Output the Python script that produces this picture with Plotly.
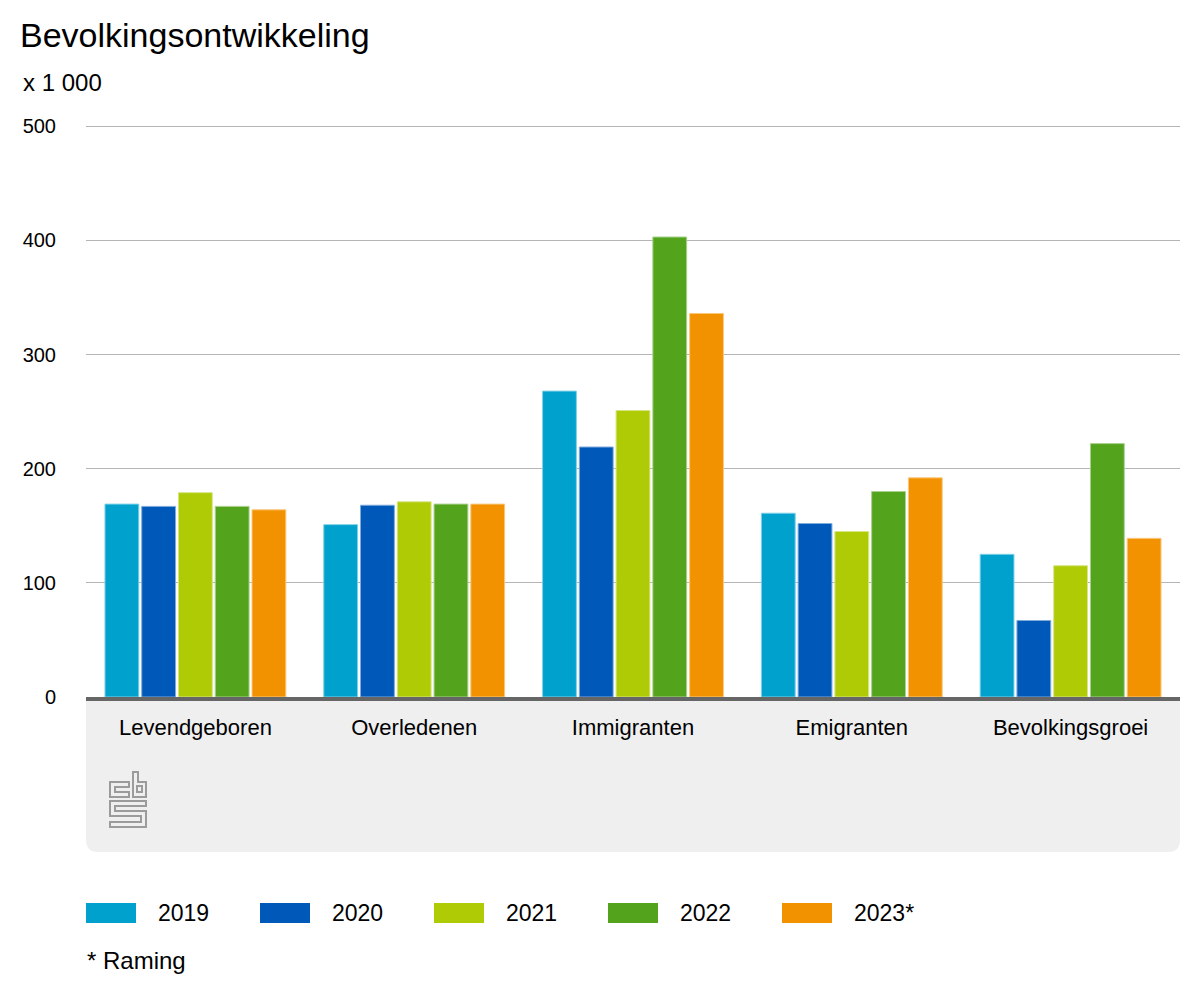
import plotly.graph_objects as go

categories = ["Levendgeboren", "Overledenen", "Immigranten", "Emigranten", "Bevolkingsgroei"]
years = ["2019", "2020", "2021", "2022", "2023*"]
v2019 = [169, 151, 268, 161, 125]
v2020 = [167, 168, 219, 152, 67]
v2021 = [179, 171, 251, 145, 115]
v2022 = [167, 169, 403, 180, 222]
v2023 = [164, 169, 336, 192, 139]
series = [v2019, v2020, v2021, v2022, v2023]
y_ticks = [0, 100, 200, 300, 400, 500]

colors = ["#00a1cd", "#0058b8", "#afcb05", "#53a31d", "#f39200"]
edge_colors = ["#7fd0e6", "#7fabdb", "#d7e582", "#a9d18e", "#f9c87f"]

FONT = "Liberation Sans, Arial, Helvetica, sans-serif"
OFF = 8  # page body margin
W, H = 1184, 984
L, T = 86 - OFF, 124 - OFF
R = W - (1180 - OFF)
B = H - (697 - OFF)
PW, PH = W - L - R, H - T - B


def px(x):
    # x in screen pixels -> paper
    return (x - OFF - L) / PW


def py(y):
    return (H - B - (y - OFF)) / PH


def path(cmds):
    out = []
    for c in cmds:
        if isinstance(c, str):
            out.append(c)
        else:
            out.append(f"{px(c[0]):.5f},{py(c[1]):.5f}")
    return " ".join(out)


fig = go.Figure()
for name, vals, col, ec in zip(years, series, colors, edge_colors):
    fig.add_trace(go.Bar(
        x=categories, y=vals, name=name,
        marker=dict(color=col, line=dict(color=ec, width=1)),
        showlegend=False,
    ))

shapes = []
# grey band below the axis with rounded bottom corners
r = 12
x0, x1, y0, y1 = 86, 1180, 699, 852
shapes.append(dict(
    type="path", xref="paper", yref="paper", layer="below",
    path=path(["M", (x0, y0), "L", (x1, y0), "L", (x1, y1 - r), "Q", (x1, y1), (x1 - r, y1),
               "L", (x0 + r, y1), "Q", (x0, y1), (x0, y1 - r), "Z"]),
    fillcolor="#efefef", line=dict(width=0),
))

# cbs logo (outline)
logo_line = dict(color="#9b9b9b", width=2)
logo_paths = [
    ["M", (129, 782), "L", (110, 782), "L", (110, 797), "L", (129, 797), "L", (129, 792),
     "L", (115, 792), "L", (115, 787), "L", (129, 787), "Z"],
    ["M", (133, 772), "L", (138, 772), "L", (138, 782), "L", (146, 782), "L", (146, 797),
     "L", (133, 797), "Z"],
    ["M", (137, 786), "L", (142, 786), "L", (142, 792), "L", (137, 792), "Z"],
    ["M", (110, 801), "L", (146, 801), "L", (146, 806), "L", (115, 806), "L", (115, 811),
     "L", (146, 811), "L", (146, 827), "L", (110, 827), "L", (110, 822), "L", (141, 822),
     "L", (141, 816), "L", (110, 816), "Z"],
]
for p in logo_paths:
    shapes.append(dict(type="path", xref="paper", yref="paper", path=path(p),
                       line=logo_line, fillcolor="rgba(0,0,0,0)"))

annotations = [
    dict(text="x 1 000", xref="paper", yref="paper", x=px(21), y=py(82),
         xanchor="left", yanchor="middle", showarrow=False,
         font=dict(family=FONT, size=24, color="#000")),
    dict(text="* Raming", xref="paper", yref="paper", x=px(85), y=py(960),
         xanchor="left", yanchor="middle", showarrow=False,
         font=dict(family=FONT, size=24, color="#000")),
]

# custom legend
for i, (name, col) in enumerate(zip(years, colors)):
    sx = 86 + i * 174
    shapes.append(dict(type="rect", xref="paper", yref="paper",
                       x0=px(sx), x1=px(sx + 50), y0=py(923), y1=py(903),
                       fillcolor=col, line=dict(width=0)))
    annotations.append(dict(text=name, xref="paper", yref="paper", x=px(sx + 70), y=py(913),
                            xanchor="left", yanchor="middle", showarrow=False,
                            font=dict(family=FONT, size=23, color="#000")))

fig.update_layout(
    width=W, height=H,
    margin=dict(l=L, r=R, t=T, b=B, pad=0),
    paper_bgcolor="white", plot_bgcolor="white",
    barmode="group", bargap=0.16, bargroupgap=0.08,
    title=dict(text="Bevolkingsontwikkeling", x=(20 - OFF) / W, xanchor="left", xref="container",
               y=1 - (35 - OFF) / H, yanchor="middle", yref="container",
               font=dict(family=FONT, size=34, color="#000")),
    font=dict(family=FONT, color="#000"),
    shapes=shapes, annotations=annotations,
    xaxis=dict(showgrid=False, showline=True, linecolor="#666666", linewidth=4,
               ticks="outside", ticklen=8, tickcolor="rgba(0,0,0,0)",
               tickfont=dict(family=FONT, size=22, color="#000"), fixedrange=True),
    yaxis=dict(range=[0, 502], tickvals=y_ticks, ticktext=[str(v) for v in y_ticks],
               showgrid=True, gridcolor="#b5b5b5", gridwidth=1, zeroline=False,
               ticks="outside", ticklen=25, tickcolor="rgba(0,0,0,0)",
               tickfont=dict(family=FONT, size=20, color="#000"), fixedrange=True),
)

fig.write_html("out.html")
